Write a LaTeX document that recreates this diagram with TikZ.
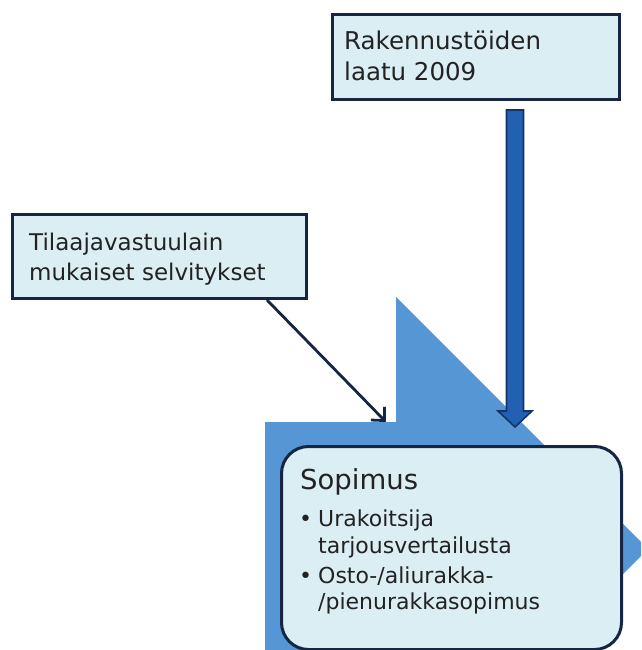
\documentclass[tikz,border=0pt]{standalone}
\usepackage{fontspec}
\setmainfont{DejaVu Sans}
\usetikzlibrary{arrows.meta,calc}

\definecolor{boxfill}{RGB}{219,238,244}
\definecolor{boxline}{RGB}{22,38,66}
\definecolor{bigblue}{RGB}{86,150,213}
\definecolor{shaftblue}{RGB}{34,96,178}
\definecolor{shaftline}{RGB}{20,52,104}
\definecolor{inktext}{RGB}{34,34,34}

\tikzset{
  infobox/.style={draw=boxline, line width=3pt, fill=boxfill, rectangle,
                  inner sep=0pt, anchor=north west},
  mainbox/.style={infobox, rounded corners=27pt},
  label/.style={inner sep=0pt, anchor=base west, text=inktext},
  bullet/.style={inner sep=0pt, anchor=base, text=inktext},
  bigshape/.style={fill=bigblue, draw=none},
  thickarrow/.style={fill=shaftblue, draw=shaftline, line width=1.6pt, line join=miter},
  thinarrow/.style={draw=boxline, line width=2.8pt,
                    -{Straight Barb[length=10pt,width=19pt,line width=2.8pt]}}
}

\begin{document}
\begin{tikzpicture}[x=1pt,y=-1pt]
  \useasboundingbox (0,0) rectangle (641,650);
  \fill[white] (0,0) rectangle (641,650);

  \begin{scope}
    \clip (0,0) rectangle (641,650);
    % large block arrow pointing right, running off the page
    \path[bigshape] (265,680) -- (265,422) -- (396,422) -- (396,297)
      -- (648,549) -- (396,801) -- (396,680) -- cycle;

    % contract box
    \node[mainbox, minimum width=340pt, minimum height=203pt] (contract) at (280,445) {};
  \end{scope}

  % input boxes
  \node[infobox, minimum width=287pt, minimum height=85pt] (quality) at (331,13) {};
  \node[infobox, minimum width=294pt, minimum height=84pt] (liability) at (11,213) {};

  % box texts
  \begin{scope}[font=\fontsize{24.5}{29}\selectfont]
    \node[label] (q1) at (344,50) {Rakennustöiden};
    \node[label] (q2) at (344,80.5) {laatu 2009};
  \end{scope}
  \begin{scope}[font=\fontsize{23}{28}\selectfont]
    \node[label] (l1) at (29,250) {Tilaajavastuulain};
    \node[label] (l2) at (29,280) {mukaiset selvitykset};
  \end{scope}
  \node[label, font=\fontsize{27.5}{32}\selectfont] (c0) at (300,489) {Sopimus};
  \begin{scope}[font=\fontsize{22}{26}\selectfont]
    \node[bullet] (b1) at (305.5,526) {•};
    \node[label] (c1) at (318,526) {Urakoitsija};
    \node[label] (c2) at (318,553) {tarjousvertailusta};
    \node[bullet] (b2) at (305.5,583) {•};
    \node[label] (c3) at (318,583) {Osto-/aliurakka-};
    \node[label] (c4) at (318,609) {/pienurakkasopimus};
  \end{scope}

  % thick arrow from the quality box down into the block arrow
  \coordinate (qa) at ($(quality.south west)+(184,9)$);
  \coordinate (qb) at ($(qa)+(0,317)$);
  \path[thickarrow] ($(qa)+(-8.5,0)$) -- ($(qb)+(-8.5,-16)$) -- ($(qb)+(-17,-16)$)
    -- (qb) -- ($(qb)+(17,-16)$) -- ($(qb)+(8.5,-16)$) -- ($(qa)+(8.5,0)$) -- cycle;

  % thin arrow from the liability box
  \coordinate (la) at ($(liability.south west)+(256,0)$);
  \coordinate (lb) at (386,422);
  \draw[thinarrow] (la) -- (lb);
\end{tikzpicture}
\end{document}
